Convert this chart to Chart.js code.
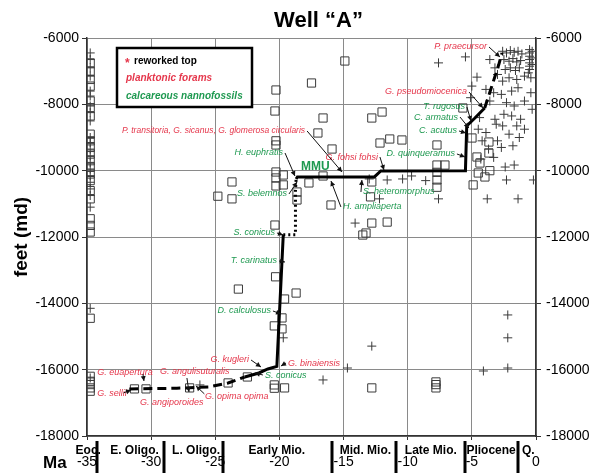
<!DOCTYPE html>
<html>
<head>
<meta charset="utf-8">
<script src="https://cdn.jsdelivr.net/npm/chart.js@4.4.0/dist/chart.umd.min.js"></script>
<style>
  html, body { margin: 0; padding: 0; background: #fff; }
</style>
</head>
<body>
<canvas id="wellChart" width="598" height="473"></canvas>
<script>
// Well "A" age-depth plot

const FONT = '"Liberation Sans", Arial, sans-serif';
const RED = '#e5364b';
const GREEN = '#1e9950';

// x axis (Ma) and depth axis (feet)
const ageTicks = [-35, -30, -25, -20, -15, -10, -5, 0];
const depthTicks = [-18000, -16000, -14000, -12000, -10000, -8000, -6000];

// epochs along the bottom strip
const epochNames = ['Eoc.', 'E. Oligo.', 'L. Oligo.', 'Early Mio.', 'Mid. Mio.', 'Late Mio.', 'Pliocene', 'Q.'];
const epochCenters = [-34.9, -31.3, -26.5, -20.2, -13.3, -8.2, -3.5, -0.6];
const epochBoundaries = [-34.2, -29.0, -24.4, -15.9, -10.9, -5.5, -1.4];

// left column of tops (Eocene samples)
const eoceneCrossDepths = [-6450, -6650, -6900, -7150, -7600, -7750, -8050, -8250, -8500, -9000, -9150, -9350,
  -9550, -9750, -9950, -10150, -10350, -10550, -10750, -11100, -14150, -16250];
const eoceneSquareDepths = [-6750, -7000, -7250, -7450, -7900, -8100, -8350, -8900, -9100, -9300, -9500, -9700,
  -9900, -10100, -10300, -10600, -10850, -11450, -11650, -11850, -14450, -16200, -16350, -16450, -16550, -16650];
const eoceneAge = -34.75;

// open squares [age, depth]
const squareTops = [
  [-20.27, -7568], [-20.35, -8201], [-17.5, -7357], [-14.9, -6693], [-16.6, -8412], [-17.0, -8864], [-15.9, -9347],
  [-12.8, -8412], [-12.0, -8231], [-20.27, -9100], [-20.27, -9226], [-12.16, -9166], [-11.4, -9045], [-10.45, -9075],
  [-7.72, -9226], [-5.7, -8110], [-4.99, -9015], [-3.67, -9136], [-3.67, -9467], [-4.6, -9588], [-4.37, -9769],
  [-20.27, -10040], [-20.27, -10220], [-19.7, -10130], [-19.7, -10430], [-20.27, -10460], [-18.63, -10643],
  [-18.63, -10884], [-17.7, -10370], [-16.6, -10160], [-15.98, -11035], [-12.8, -10340], [-12.9, -10790],
  [-7.72, -9830], [-7.72, -10050], [-7.72, -10280], [-7.72, -10500], [-7.1, -9830], [-4.5, -10070], [-3.98, -10190],
  [-4.9, -10430], [-3.6, -10000], [-23.7, -10340], [-24.8, -10770], [-23.7, -10850], [-20.35, -11640],
  [-12.8, -11580], [-11.6, -11550], [-13.25, -11880], [-13.5, -11940], [-23.2, -13570], [-20.3, -13200],
  [-19.6, -13870], [-18.7, -13690], [-19.8, -14440], [-20.4, -14680], [-19.8, -14770], [-20.4, -16460],
  [-20.4, -16560], [-19.6, -16550], [-31.3, -16580], [-30.4, -16580], [-27.0, -16550], [-24.0, -16400],
  [-22.5, -16220], [-12.8, -16550], [-7.8, -16370], [-7.8, -16450], [-7.8, -16550]
];

// crosses [age, depth]
const crossTops = [
  [-26.2, -16460], [-19.7, -15040], [-16.6, -16310], [-14.7, -15950], [-12.8, -15290], [-2.2, -14350],
  [-2.2, -15040], [-2.2, -15950], [-4.1, -16040], [-14.1, -11580], [-12.2, -10850], [-11.6, -10280],
  [-10.4, -10250], [-9.7, -10160], [-8.6, -10300], [-7.6, -10850], [-13.0, -10250],
  [-7.6, -6750], [-5.5, -6570], [-3.6, -6650], [-3.2, -6900],
  [-2.6, -6400], [-2.3, -6450], [-2.0, -6380], [-1.7, -6430], [-1.4, -6400], [-1.1, -6480],
  [-2.5, -6650], [-2.1, -6700], [-1.8, -6620], [-1.5, -6720], [-1.2, -6680],
  [-2.4, -6950], [-2.0, -6900], [-1.6, -6980], [-1.3, -6900],
  [-0.5, -6350], [-0.5, -6450], [-0.5, -6550], [-0.5, -6650], [-0.5, -6750], [-0.5, -6850], [-0.5, -6950],
  [-0.3, -6400], [-0.3, -6600], [-0.3, -6800], [-0.6, -7050], [-0.4, -7200],
  [-4.6, -7180], [-3.0, -7100], [-2.6, -7300], [-2.1, -7200], [-1.5, -7250], [-0.9, -7150],
  [-5.0, -7450], [-3.9, -7550], [-3.3, -7650], [-2.7, -7700], [-1.9, -7600], [-1.4, -7500], [-0.4, -7650],
  [-5.1, -7800], [-3.6, -7900], [-2.3, -7950], [-1.7, -8050], [-0.9, -7900], [-0.3, -8150],
  [-4.4, -8400], [-3.2, -8450], [-2.5, -8300], [-1.9, -8350], [-1.2, -8450],
  [-4.5, -8750], [-3.1, -8600], [-2.6, -8650], [-1.5, -8650], [-0.9, -8750],
  [-3.9, -8850], [-2.1, -8900], [-1.3, -9000], [-3.0, -9100], [-4.2, -9100],
  [-3.7, -9350], [-2.7, -9300], [-1.8, -9250], [-4.3, -9650], [-3.3, -9600],
  [-2.4, -9890], [-1.7, -9830], [-2.3, -10280], [-0.2, -10280], [-3.8, -10850], [-1.4, -10850]
];

// age-depth interpretation line, in pieces
const oligoceneDashed = [[-31.7, -16580], [-28.0, -16560], [-25.5, -16520], [-24.0, -16400], [-22.7, -16220]];
const earlyMioSolid = [[-22.7, -16220], [-21.6, -16100], [-20.9, -15980], [-20.2, -15900], [-19.7, -11930]];
const mmuDotted = [[-19.7, -11930], [-18.75, -11930], [-18.75, -10600], [-18.7, -10250]];
const mainSolid = [[-18.7, -10250], [-18.6, -10190], [-12.6, -10190], [-12.1, -10010], [-5.5, -10000],
  [-5.4, -8650], [-4.76, -8412], [-4.0, -8110]];
const plioceneDashed = [[-4.0, -8110], [-3.4, -7400], [-2.9, -6800], [-2.65, -6450]];

// marker labels: [text, f=foram / n=nanno, age, depth, align, tipAge, tipDepth, fromAge, fromDepth]
const markerLabels = [
  ['P. praecursor', 'f', -3.82, -6271, 'right', -2.81, -6573],
  ['G. pseudomiocenica', 'f', -5.38, -7628, 'right', -4.13, -8110],
  ['T. rugosus', 'n', -5.54, -8080, 'right', -5.07, -8502],
  ['C. armatus', 'n', -6.08, -8382, 'right', -5.23, -8714],
  ['C. acutus', 'n', -6.16, -8804, 'right', -5.46, -8864],
  ['D. quinqueramus', 'n', -6.32, -9497, 'right', -5.54, -9588],
  ['G. fohsi fohsi', 'f', -12.32, -9588, 'right', -11.85, -9980],
  ['S. heteromorphus', 'n', -13.49, -10643, 'left', -13.57, -10281],
  ['H. ampliaperta', 'n', -15.05, -11095, 'left', -15.98, -10312],
  ['P. transitoria, G. sicanus, G. glomerosa circularis', 'f', -18.0, -8804, 'right', -15.12, -10040],
  ['H. euphratis', 'n', -19.72, -9467, 'right', -18.79, -10161],
  ['S. belemnos', 'n', -19.41, -10703, 'right', -18.63, -10342],
  ['S. conicus', 'n', -20.35, -11879, 'right', -19.72, -11940],
  ['T. carinatus', 'n', -20.19, -12723, 'right', -19.57, -12754],
  ['D. calculosus', 'n', -20.66, -14231, 'right', -19.88, -14321],
  ['G. kugleri', 'f', -22.37, -15708, 'right', -21.44, -15919],
  ['G. binaiensis', 'f', -19.33, -15799, 'left', -19.88, -15889],
  ['S. conicus', 'n', -21.13, -16161, 'left', -21.91, -16100],
  ['G. euapertura', 'f', -34.2, -16100, 'left', -30.56, -16341, -30.64, -16130],
  ['G. sellii', 'f', -34.2, -16733, 'left', -31.57, -16613, -32.15, -16700],
  ['G. angulisuturalis', 'f', -29.31, -16070, 'left', -27.05, -16673, -27.21, -16251],
  ['G. opima opima', 'f', -25.8, -16824, 'left', -26.5, -16492, -25.85, -16730],
  ['G. angiporoides', 'f', -30.87, -17005, 'left', null, null]
];

function toXY(pairs) {
  return pairs.map(p => ({ x: p[0], y: p[1] }));
}

const squarePoints = toXY(squareTops).concat(eoceneSquareDepths.map(d => ({ x: eoceneAge, y: d })));
const crossPoints = toXY(crossTops).concat(eoceneCrossDepths.map(d => ({ x: eoceneAge, y: d })));

function lineSet(pairs, dash) {
  return {
    data: toXY(pairs), showLine: true, borderColor: '#000', borderWidth: 3,
    borderDash: dash, pointRadius: 0, fill: false, tension: 0, order: 0
  };
}

function drawArrow(ctx, x1, y1, x2, y2) {
  ctx.strokeStyle = '#111';
  ctx.fillStyle = '#111';
  ctx.lineWidth = 1;
  ctx.beginPath();
  ctx.moveTo(x1, y1);
  ctx.lineTo(x2, y2);
  ctx.stroke();
  const a = Math.atan2(y2 - y1, x2 - x1);
  ctx.beginPath();
  ctx.moveTo(x2, y2);
  ctx.lineTo(x2 - 5 * Math.cos(a) + 2.5 * Math.sin(a), y2 - 5 * Math.sin(a) - 2.5 * Math.cos(a));
  ctx.lineTo(x2 - 5 * Math.cos(a) - 2.5 * Math.sin(a), y2 - 5 * Math.sin(a) + 2.5 * Math.cos(a));
  ctx.closePath();
  ctx.fill();
}

const overlay = {
  id: 'overlay',
  afterDatasetsDraw(chart) {
    const ctx = chart.ctx;
    const xs = chart.scales.x, ys = chart.scales.y;
    ctx.save();
    ctx.textBaseline = 'middle';
    markerLabels.forEach(l => {
      const x = xs.getPixelForValue(l[2]), y = ys.getPixelForValue(l[3]);
      ctx.font = (l[0].length > 30 ? 'italic 8.5px ' : 'italic 9px ') + FONT;
      ctx.fillStyle = l[1] === 'f' ? RED : GREEN;
      ctx.textAlign = l[4];
      ctx.fillText(l[0], x, y);
      if (l[5] != null) {
        let fx = l[4] === 'right' ? x + 2 : x - 2, fy = y;
        if (l[7] != null) { fx = xs.getPixelForValue(l[7]); fy = ys.getPixelForValue(l[8]); }
        drawArrow(ctx, fx, fy, xs.getPixelForValue(l[5]), ys.getPixelForValue(l[6]));
      }
    });
    // MMU
    ctx.font = 'bold 12px ' + FONT;
    ctx.fillStyle = GREEN;
    ctx.textAlign = 'left';
    ctx.fillText('MMU', xs.getPixelForValue(-18.32), ys.getPixelForValue(-9889));
    ctx.restore();
  },
  afterDraw(chart) {
    const ctx = chart.ctx;
    const area = chart.chartArea;
    const xs = chart.scales.x;
    ctx.save();
    // title
    ctx.fillStyle = '#000';
    ctx.font = 'bold 22px ' + FONT;
    ctx.textAlign = 'center';
    ctx.textBaseline = 'alphabetic';
    ctx.fillText('Well \u201cA\u201d', (area.left + area.right) / 2 + 7, 27);

    // legend box
    const bx = area.left + 30, by = area.top + 10;
    ctx.fillStyle = '#fff';
    ctx.fillRect(bx, by, 135, 59);
    ctx.strokeStyle = '#000';
    ctx.lineWidth = 2.5;
    ctx.strokeRect(bx, by, 135, 59);
    ctx.textAlign = 'left';
    ctx.fillStyle = RED;
    ctx.font = 'bold 12px ' + FONT;
    ctx.fillText('*', bx + 8, by + 19);
    ctx.fillStyle = '#000';
    ctx.font = 'bold 10px ' + FONT;
    ctx.fillText('reworked top', bx + 17, by + 16);
    ctx.fillStyle = RED;
    ctx.font = 'italic bold 10px ' + FONT;
    ctx.fillText('planktonic forams', bx + 9, by + 33);
    ctx.fillStyle = GREEN;
    ctx.fillText('calcareous nannofossils', bx + 9, by + 51);

    // epoch strip
    ctx.fillStyle = '#000';
    ctx.font = 'bold 12px ' + FONT;
    ctx.textAlign = 'center';
    epochNames.forEach((name, i) => {
      ctx.fillText(name, xs.getPixelForValue(epochCenters[i]), area.bottom + 18);
    });
    ctx.strokeStyle = '#000';
    ctx.lineWidth = 3;
    epochBoundaries.forEach(b => {
      const x = Math.round(xs.getPixelForValue(b));
      ctx.beginPath();
      ctx.moveTo(x, area.bottom + 5);
      ctx.lineTo(x, chart.height);
      ctx.stroke();
    });
    ctx.font = 'bold 17px ' + FONT;
    ctx.textAlign = 'left';
    ctx.fillText('Ma', 43, area.bottom + 32);
    ctx.restore();
  }
};

const tickFont = { family: FONT, size: 14 };

new Chart(document.getElementById('wellChart'), {
  type: 'scatter',
  data: {
    datasets: [
      lineSet(oligoceneDashed, [9, 5]),
      lineSet(earlyMioSolid, []),
      lineSet(mmuDotted, [2, 3]),
      lineSet(mainSolid, []),
      lineSet(plioceneDashed, [9, 5]),
      {
        data: crossPoints, pointStyle: 'cross', pointRadius: 4.5, borderColor: '#3a3a3a',
        borderWidth: 1, order: 4
      },
      {
        data: squarePoints, pointStyle: 'rect', pointRadius: 5.8, borderColor: '#3a3a3a',
        backgroundColor: 'rgba(255,255,255,0)', borderWidth: 1, order: 5
      }
    ]
  },
  options: {
    responsive: false,
    animation: false,
    layout: { padding: { top: 38, left: 0, right: 0, bottom: 0 } },
    plugins: { legend: { display: false }, tooltip: { enabled: false } },
    scales: {
      x: {
        type: 'linear', position: 'bottom', min: ageTicks[0], max: ageTicks[ageTicks.length - 1],
        afterBuildTicks(s) { s.ticks = ageTicks.map(v => ({ value: v })); },
        ticks: { color: '#000', font: tickFont, padding: 14, autoSkip: false, maxRotation: 0, callback: v => String(v) },
        grid: { color: '#8a8a8a', lineWidth: 1, tickLength: 4, tickColor: '#333' },
        border: { color: '#333', width: 1.5 },
        afterFit(s) { s.height = 37; }
      },
      y: {
        type: 'linear', position: 'left', min: depthTicks[0], max: depthTicks[depthTicks.length - 1],
        afterBuildTicks(s) { s.ticks = depthTicks.map(v => ({ value: v })); },
        ticks: { color: '#000', font: tickFont, padding: 3, callback: v => String(v) },
        grid: { color: '#8a8a8a', lineWidth: 1, tickLength: 5, tickColor: '#333' },
        border: { color: '#333', width: 1.5 },
        title: {
          display: true, text: 'feet (md)', color: '#000',
          font: { family: FONT, size: 19, weight: 'bold' }, padding: { top: 10, bottom: 0 }
        },
        afterFit(s) { s.width = 87; }
      },
      y2: {
        type: 'linear', position: 'right', min: depthTicks[0], max: depthTicks[depthTicks.length - 1],
        afterBuildTicks(s) { s.ticks = depthTicks.map(v => ({ value: v })); },
        ticks: { color: '#000', font: tickFont, padding: 5, callback: v => String(v) },
        grid: { drawOnChartArea: false, tickLength: 5, tickColor: '#333' },
        border: { color: '#333', width: 1.5 },
        afterFit(s) { s.width = 62; }
      }
    }
  },
  plugins: [overlay]
});
</script>
</body>
</html>
